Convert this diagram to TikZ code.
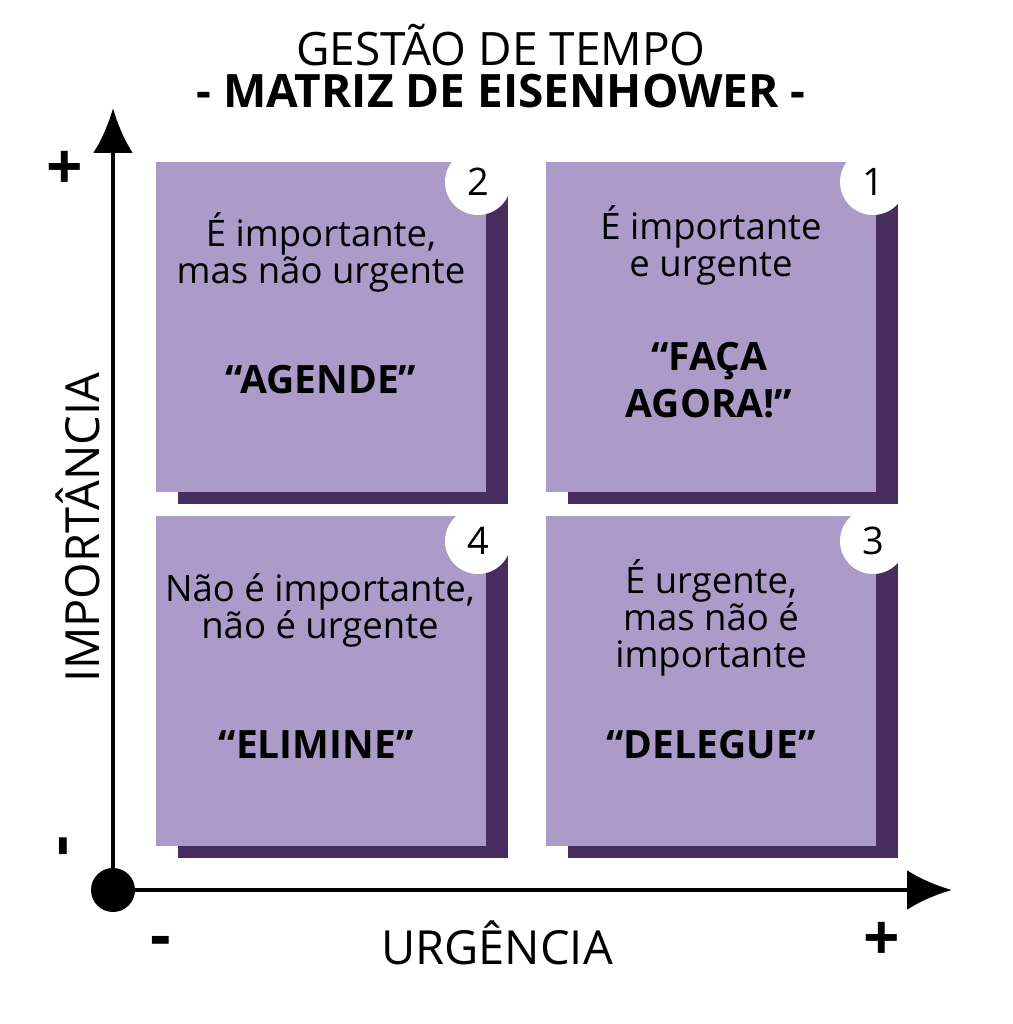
\documentclass[tikz,border=0pt]{standalone}
\usepackage{fontspec}
\setmainfont{Open Sans}
\usetikzlibrary{arrows.meta,shadows}

\definecolor{lilac}{RGB}{172,155,200}
\definecolor{plum}{RGB}{71,46,95}

\begin{document}
\begin{tikzpicture}[x=1pt,y=-1pt]

\tikzset{quad/.style = {shape=rectangle,fill=lilac,minimum width=330pt,minimum height=330pt,inner sep=0pt,
  drop shadow={shadow xshift=22pt,shadow yshift=-12pt,fill=plum,opacity=1}}}
\tikzset{num/.style = {shape=circle,fill=white,minimum size=66pt,inner sep=0pt,font=\fontsize{38}{40}\selectfont}}
\tikzset{desc/.style = {align=center,inner sep=0pt,font=\fontsize{36.5}{37}\selectfont}}
\tikzset{cmd/.style = {align=center,inner sep=0pt,font=\fontsize{39}{47}\selectfont\bfseries}}
\tikzset{axis/.style = {line width=4.7pt,-{Latex[length=45pt,width=40pt]}}}
\tikzset{sign/.style = {inner sep=0pt,font=\fontsize{64}{64}\selectfont\bfseries}}
\tikzset{label/.style = {inner sep=0pt,font=\fontsize{47}{47}\selectfont}}

\useasboundingbox (0,0) rectangle (1012,1024);

\node[align=center,inner sep=0pt,font=\fontsize{46}{42}\selectfont] (title) at (501,66)
  {GESTÃO DE TEMPO\\\bfseries - MATRIZ DE EISENHOWER -};

\node[quad] (q2) at (321,327) {};
\node[quad] (q1) at (711,327) {};
\node[quad] (q4) at (321,681) {};
\node[quad] (q3) at (711,681) {};

\node[num] (n2) at (478,182) {2};
\node[num] (n1) at (873,182) {1};
\node[num] (n4) at (478,541) {4};
\node[num] (n3) at (873,541) {3};

\node[desc] (d2) at (321,252) {É importante,\\mas não urgente};
\node[cmd] (c2) at (321,380) {“AGENDE”};
\node[desc] (d1) at (711,245) {É importante\\e urgente};
\node[cmd] (c1) at (709,380) {“FAÇA\\AGORA!”};
\node[desc] (d4) at (320,610) {Não é importante,\\não é urgente};
\node[cmd] (c4) at (316,745) {“ELIMINE”};
\node[desc] (d3) at (711,618) {É urgente,\\mas não é\\importante};
\node[cmd] (c3) at (711,745) {“DELEGUE”};

\node[circle,fill=black,minimum size=44pt,inner sep=0pt] (o) at (113,890) {};
\coordinate (ytop) at (113,108);
\coordinate (xend) at (952,890);
\draw[axis] (o.center) -- (ytop);
\draw[axis] (o.center) -- (xend);

\node[label] (xlab) at (497,943) {URGÊNCIA};
\node[label,rotate=90] (ylab) at (78,528) {IMPORTÂNCIA};

\node[sign] (yplus) at (65,170) {+};
\node[sign,rotate=90] (yminus) at (70,846) {-};
\node[sign] (xminus) at (161,947) {-};
\node[sign] (xplus) at (882,941) {+};

\end{tikzpicture}
\end{document}
